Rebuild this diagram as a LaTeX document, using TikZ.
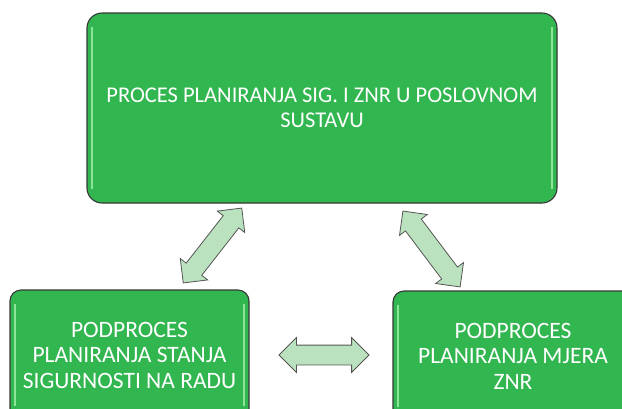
\documentclass[tikz,border=0pt]{standalone}
\usepackage{fontspec}
\setmainfont{Carlito}
\usetikzlibrary{shapes,shapes.arrows}

\definecolor{boxgreen}{RGB}{50,182,80}
\definecolor{boxline}{RGB}{55,55,55}
\definecolor{arrowfill}{RGB}{186,226,190}
\definecolor{glint}{RGB}{140,228,152}

\tikzset{
  procbox/.style={rectangle, rounded corners=#1, draw=boxline, line width=1.1pt,
    fill=boxgreen, text=white, align=center, inner sep=0pt,
    path picture={
      \draw[glint, line width=1.6pt] ([xshift=5pt,yshift=-14pt]path picture bounding box.north west)
        -- ([xshift=5pt,yshift=14pt]path picture bounding box.south west);
      \draw[glint, line width=1.6pt] ([xshift=-5pt,yshift=-14pt]path picture bounding box.north east)
        -- ([xshift=-5pt,yshift=14pt]path picture bounding box.south east);}},
  linkarrow/.style={double arrow, draw=boxline!85, line width=0.8pt, fill=arrowfill,
    minimum height=95pt, inner xsep=0pt, inner ysep=9.5pt, double arrow head extend=7.5pt}
}

\begin{document}
\begin{tikzpicture}[x=1pt,y=-1pt]
  \useasboundingbox (0,0) rectangle (622,408);
  % process boxes
  \node[procbox=15pt, minimum width=470pt, minimum height=190pt,
    font=\fontsize{22.5}{25.5}\selectfont] (proces) at (322,108)
    {PROCES PLANIRANJA SIG. I ZNR U POSLOVNOM\\SUSTAVU};
  \node[procbox=11pt, minimum width=239pt, minimum height=130pt,
    font=\fontsize{23.5}{25.5}\selectfont] (stanje) at (129.5,355)
    {PODPROCES\\PLANIRANJA STANJA\\SIGURNOSTI NA RADU};
  \node[procbox=11pt, minimum width=240pt, minimum height=130pt,
    font=\fontsize{23.5}{25.5}\selectfont] (mjere) at (513,356)
    {PODPROCES\\PLANIRANJA MJERA\\ZNR};
  % links between them
  \node[linkarrow, rotate=52] (linkL) at (212.5,245.5) {};
  \node[linkarrow, rotate=-53] (linkR) at (431.5,249) {};
  \node[linkarrow, minimum height=90pt] (linkB) at (324,355) {};
\end{tikzpicture}
\end{document}
